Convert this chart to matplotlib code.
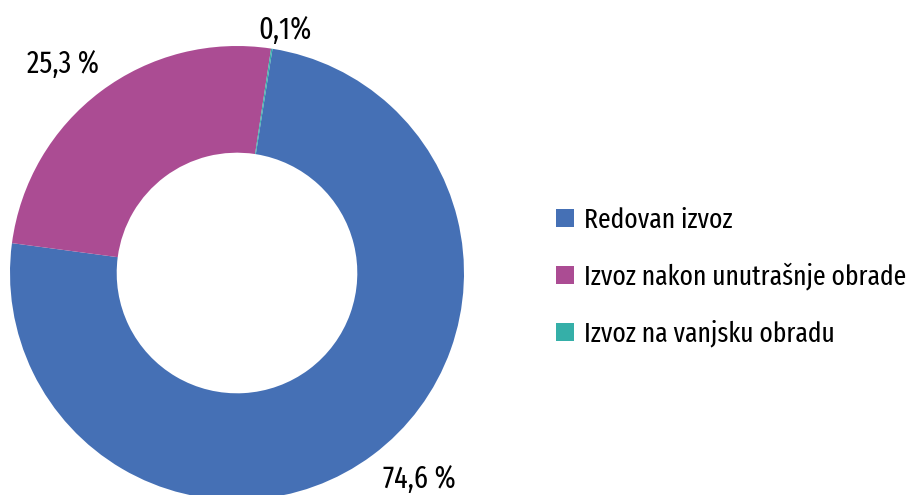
import matplotlib.pyplot as plt

labels = ["Redovan izvoz", "Izvoz nakon unutrašnje obrade", "Izvoz na vanjsku obradu"]
values = [74.6, 25.3, 0.1]
value_text = ["74,6 %", "25,3 %", "0,1%"]
colors = ["#4570B5", "#AB4C93", "#35AFA8"]

plt.rcParams['font.family'] = ['Fira Sans Extra Condensed', 'DejaVu Sans']

W, H = 914, 495
fig = plt.figure(figsize=(W / 100, H / 100), dpi=100)

# donut centre and radius in pixels (centre measured from bottom)
cx, cy, r = 237, 222, 227
ax = fig.add_axes([(cx - r) / W, (cy - r) / H, 2 * r / W, 2 * r / H])
wedges, _ = ax.pie(values, colors=colors, startangle=81, counterclock=False,
                   radius=1, wedgeprops=dict(width=0.47, edgecolor='none'))
ax.set_xlim(-1, 1)
ax.set_ylim(-1, 1)
ax.set_aspect('equal')
ax.axis('off')

# label positions (pixels from top-left)
label_pos = [(419, 479), (63, 64), (285, 30)]
for txt, (px, py) in zip(value_text, label_pos):
    fig.text(px / W, 1 - py / H, txt, ha='center', va='center', fontsize=22)

fig.legend(wedges, labels, loc='center left', bbox_to_anchor=(531 / W, 1 - 277 / H),
           frameon=False, fontsize=20, handlelength=0.65, handleheight=0.65,
           handletextpad=0.35, labelspacing=1.05)

fig.savefig("out.png", dpi=100)
